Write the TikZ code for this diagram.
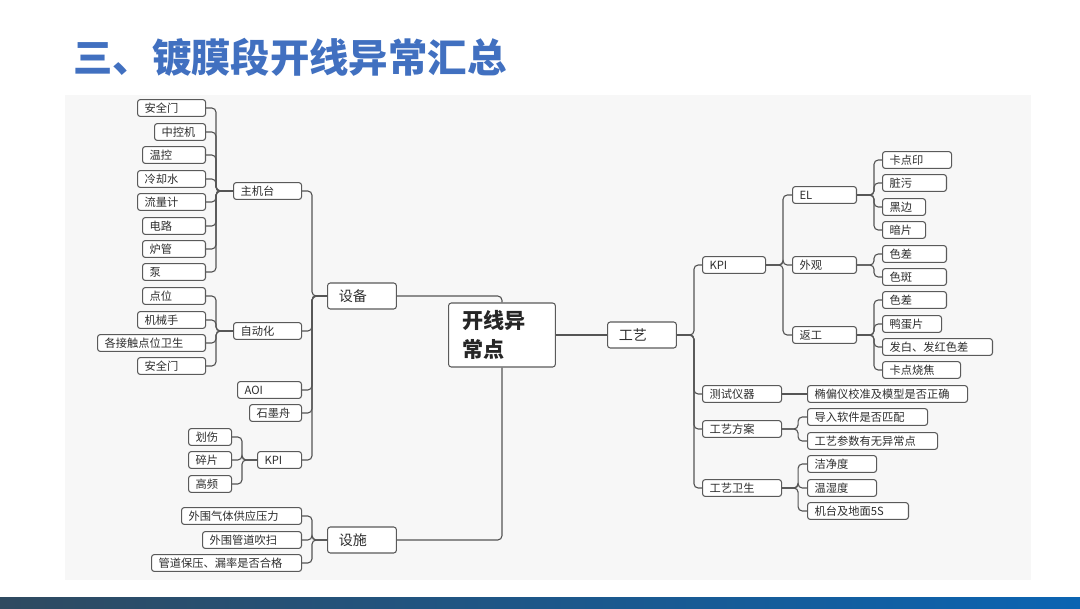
\documentclass[tikz,border=0pt]{standalone}
\usepackage{fontspec}
\setmainfont{Noto Sans CJK SC}
\usepackage{tikz}
\usetikzlibrary{calc}

\definecolor{titleblue}{HTML}{4170C0}
\definecolor{boxline}{HTML}{5A5A5A}
\definecolor{edgegray}{HTML}{555555}
\definecolor{textgray}{HTML}{2E2E2E}
\definecolor{panelgray}{HTML}{F7F7F7}
\definecolor{barleft}{HTML}{2F4A60}
\definecolor{barright}{HTML}{0B64B2}

\begin{document}
\begin{tikzpicture}[x=0.025cm, y=-0.025cm,
        leaf_style/.style={draw=boxline,fill=white,rounded corners=2pt,line width=0.75pt,text=textgray,
            font=\fontsize{8}{9.5}\selectfont,inner xsep=5pt,inner ysep=1.5pt,minimum height=12pt,align=left,anchor=west},
        mid_style/.style={leaf_style,font=\fontsize{10}{12}\selectfont,inner xsep=8pt,minimum height=18.5pt,text width=33pt},
        root_style/.style={leaf_style,font=\fontsize{15}{21}\selectfont\bfseries,text=black!85,inner xsep=10pt,minimum height=45.5pt,text width=56pt},
        title_style/.style={font=\fontsize{28}{32}\selectfont\bfseries,text=titleblue,anchor=west,inner sep=0pt},
        edge_style/.style={draw=edgegray,line width=0.8pt,rounded corners=3pt}]

        \useasboundingbox (0,0) rectangle (1080,608);
        \fill [white] (0,0) rectangle (1080,608);
        \fill [panelgray] (65,95) rectangle (1031,580);
        \shade [left color=barleft,right color=barright] (0,597) rectangle (1080,608);

        \node [title_style] (title) at (73,57) {三、镀膜段开线异常汇总};

        % equipment side
        \node [leaf_style,text width=38.4pt] (h1) at (137,108) {安全门};
        \node [leaf_style,text width=26.3pt] (h2) at (154,132) {中控机};
        \node [leaf_style,text width=34.8pt] (h3) at (142,155) {温控};
        \node [leaf_style,text width=38.4pt] (h4) at (137,179) {冷却水};
        \node [leaf_style,text width=38.4pt] (h5) at (137,202) {流量计};
        \node [leaf_style,text width=34.8pt] (h6) at (142,226) {电路};
        \node [leaf_style,text width=34.8pt] (h7) at (142,249) {炉管};
        \node [leaf_style,text width=34.8pt] (h8) at (142,272) {泵};
        \node [leaf_style,text width=38.4pt] (host) at (233,191) {主机台};

        \node [leaf_style,text width=34.8pt] (a1) at (142,296) {点位};
        \node [leaf_style,text width=38.4pt] (a2) at (137,320) {机械手};
        \node [leaf_style,text width=66.8pt] (a3) at (97,343) {各接触点位卫生};
        \node [leaf_style,text width=38.4pt] (a4) at (137,366) {安全门};
        \node [leaf_style,text width=38.4pt] (auto) at (233,331) {自动化};

        \node [leaf_style,text width=35.5pt] (aoi) at (237,390) {AOI};
        \node [leaf_style,text width=27pt] (boat) at (249,413) {石墨舟};

        \node [leaf_style,text width=20.6pt] (k1) at (188,437) {划伤};
        \node [leaf_style,text width=20.6pt] (k2) at (188,460) {碎片};
        \node [leaf_style,text width=20.6pt] (k3) at (188,484) {高频};
        \node [leaf_style,text width=21.3pt] (kpil) at (257,460) {KPI};

        \node [leaf_style,text width=75.4pt] (f1) at (181,516) {外围气体供应压力};
        \node [leaf_style,text width=60.4pt] (f2) at (202,540) {外围管道吹扫};
        \node [leaf_style,text width=96.7pt] (f3) at (151,563) {管道保压、漏率是否合格};

        \node [mid_style] (equip) at (327,296) {设备};
        \node [mid_style] (facil) at (327,540) {设施};

        \node [root_style] (root) at (448,335) {开线异\\常点};

        % process side
        \node [mid_style] (proc) at (607,335) {工艺};

        \node [leaf_style,text width=34.8pt] (kpir) at (702,265) {KPI};
        \node [leaf_style,text width=46.2pt] (test) at (702,394) {测试仪器};
        \node [leaf_style,text width=46.2pt] (plan) at (702,429) {工艺方案};
        \node [leaf_style,text width=46.2pt] (hyg) at (702,488) {工艺卫生};

        \node [leaf_style,text width=35.5pt] (el) at (792,195) {EL};
        \node [leaf_style,text width=35.5pt] (look) at (792,265) {外观};
        \node [leaf_style,text width=35.5pt] (rework) at (792,335) {返工};

        \node [leaf_style,text width=39.1pt] (e1) at (882,160) {卡点印};
        \node [leaf_style,text width=35.5pt] (e2) at (882,183) {脏污};
        \node [leaf_style,text width=20.6pt] (e3) at (882,207) {黑边};
        \node [leaf_style,text width=20.6pt] (e4) at (882,230) {暗片};
        \node [leaf_style,text width=35.5pt] (l1) at (882,254) {色差};
        \node [leaf_style,text width=35.5pt] (l2) at (882,277) {色斑};
        \node [leaf_style,text width=35.5pt] (r1) at (882,300) {色差};
        \node [leaf_style,text width=32pt] (r2) at (882,324) {鸭蛋片};
        \node [leaf_style,text width=68.2pt] (r3) at (882,347) {发白、发红色差};
        \node [leaf_style,text width=45.5pt] (r4) at (882,370) {卡点烧焦};

        \node [leaf_style,text width=103.8pt] (t1) at (807,394) {椭偏仪校准及模型是否正确};
        \node [leaf_style,text width=75.4pt] (p1) at (807,417) {导入软件是否匹配};
        \node [leaf_style,text width=82.5pt] (p2) at (807,441) {工艺参数有无异常点};
        \node [leaf_style,text width=39.1pt] (g1) at (807,464) {洁净度};
        \node [leaf_style,text width=39.1pt] (g2) at (807,488) {温湿度};
        \node [leaf_style,text width=61.8pt] (g3) at (807,511) {机台及地面5S};

        % brackets, left
        \draw [edge_style] (host.west) -- ++(-17,0) |- (h1.east);
        \draw [edge_style] (host.west) -- ++(-17,0) |- (h2.east);
        \draw [edge_style] (host.west) -- ++(-17,0) |- (h3.east);
        \draw [edge_style] (host.west) -- ++(-17,0) |- (h4.east);
        \draw [edge_style] (host.west) -- ++(-17,0) |- (h5.east);
        \draw [edge_style] (host.west) -- ++(-17,0) |- (h6.east);
        \draw [edge_style] (host.west) -- ++(-17,0) |- (h7.east);
        \draw [edge_style] (host.west) -- ++(-17,0) |- (h8.east);

        \draw [edge_style] (auto.west) -- ++(-17,0) |- (a1.east);
        \draw [edge_style] (auto.west) -- ++(-17,0) |- (a2.east);
        \draw [edge_style] (auto.west) -- ++(-17,0) |- (a3.east);
        \draw [edge_style] (auto.west) -- ++(-17,0) |- (a4.east);

        \draw [edge_style] (kpil.west) -- ++(-15,0) |- (k1.east);
        \draw [edge_style] (kpil.west) -- ++(-15,0) |- (k2.east);
        \draw [edge_style] (kpil.west) -- ++(-15,0) |- (k3.east);

        \draw [edge_style] (equip.west) -- ++(-15,0) |- (host.east);
        \draw [edge_style] (equip.west) -- ++(-15,0) |- (auto.east);
        \draw [edge_style] (equip.west) -- ++(-15,0) |- (aoi.east);
        \draw [edge_style] (equip.west) -- ++(-15,0) |- (boat.east);
        \draw [edge_style] (equip.west) -- ++(-15,0) |- (kpil.east);

        \draw [edge_style] (facil.west) -- ++(-15,0) |- (f1.east);
        \draw [edge_style] (facil.west) -- ++(-15,0) |- (f2.east);
        \draw [edge_style] (facil.west) -- ++(-15,0) |- (f3.east);

        % root
        \draw [edge_style] (equip.east) -| (root.north);
        \draw [edge_style] (facil.east) -| (root.south);
        \draw [edge_style] (root.east) -- (proc.west);

        % brackets, right
        \draw [edge_style] (proc.east) -- ++(17,0) |- (kpir.west);
        \draw [edge_style] (proc.east) -- ++(17,0) |- (test.west);
        \draw [edge_style] (proc.east) -- ++(17,0) |- (plan.west);
        \draw [edge_style] (proc.east) -- ++(17,0) |- (hyg.west);

        \draw [edge_style] (kpir.east) -- ++(17,0) |- (el.west);
        \draw [edge_style] (kpir.east) -- ++(17,0) |- (look.west);
        \draw [edge_style] (kpir.east) -- ++(17,0) |- (rework.west);

        \draw [edge_style] (el.east) -- ++(17,0) |- (e1.west);
        \draw [edge_style] (el.east) -- ++(17,0) |- (e2.west);
        \draw [edge_style] (el.east) -- ++(17,0) |- (e3.west);
        \draw [edge_style] (el.east) -- ++(17,0) |- (e4.west);

        \draw [edge_style] (look.east) -- ++(17,0) |- (l1.west);
        \draw [edge_style] (look.east) -- ++(17,0) |- (l2.west);

        \draw [edge_style] (rework.east) -- ++(17,0) |- (r1.west);
        \draw [edge_style] (rework.east) -- ++(17,0) |- (r2.west);
        \draw [edge_style] (rework.east) -- ++(17,0) |- (r3.west);
        \draw [edge_style] (rework.east) -- ++(17,0) |- (r4.west);

        \draw [edge_style] (test.east) -- (t1.west);

        \draw [edge_style] (plan.east) -- ++(16,0) |- (p1.west);
        \draw [edge_style] (plan.east) -- ++(16,0) |- (p2.west);

        \draw [edge_style] (hyg.east) -- ++(16,0) |- (g1.west);
        \draw [edge_style] (hyg.east) -- ++(16,0) |- (g2.west);
        \draw [edge_style] (hyg.east) -- ++(16,0) |- (g3.west);

        \end{tikzpicture}
\end{document}
